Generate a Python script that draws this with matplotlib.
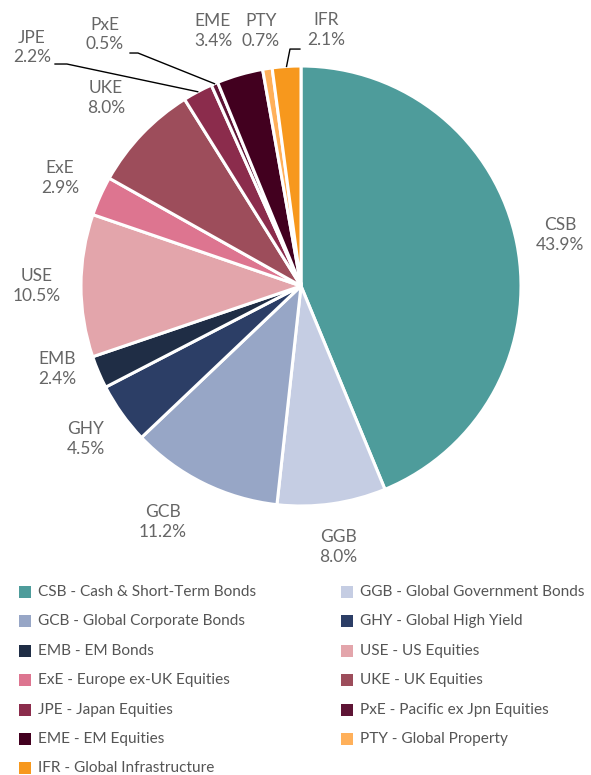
import numpy as np
import matplotlib
matplotlib.use('Agg')
from matplotlib import pyplot as plt
from matplotlib.patches import Rectangle

plt.rcParams['font.family'] = ['Lato', 'DejaVu Sans']

# data
codes = ['CSB', 'GGB', 'GCB', 'GHY', 'EMB', 'USE', 'ExE', 'UKE', 'JPE', 'PxE', 'EME', 'PTY', 'IFR']
names = ['Cash & Short-Term Bonds', 'Global Government Bonds', 'Global Corporate Bonds',
         'Global High Yield', 'EM Bonds', 'US Equities', 'Europe ex-UK Equities',
         'UK Equities', 'Japan Equities', 'Pacific ex Jpn Equities', 'EM Equities',
         'Global Property', 'Global Infrastructure']
values = [43.9, 8.0, 11.2, 4.5, 2.4, 10.5, 2.9, 8.0, 2.2, 0.5, 3.4, 0.7, 2.1]
colors = ['#4E9C9B', '#C5CDE3', '#97A6C6', '#2C3E66', '#1F2D45', '#E3A5AB', '#DD7590',
          '#9D4D5B', '#8B2C4C', '#5E1435', '#42001F', '#FFB05A', '#F7981D']

# label placement overrides (data coords, pie radius = 1)
label_pos = {
    'GCB': (-0.627, -1.073),
    'EMB': (-1.109, -0.377),
    'UKE': (-0.886, 0.855),
    'JPE': (-1.223, 1.084),
    'PxE': (-0.891, 1.143),
    'EME': (-0.400, 1.161),
    'PTY': (-0.182, 1.161),
    'IFR': (0.114, 1.164),
}
# leader lines: (elbow, end) for small slices
leaders = {
    'JPE': ((-1.064, 1.009), (-1.118, 1.009)),
    'PxE': ((-0.741, 1.059), (-0.777, 1.059)),
    'IFR': ((-0.050, 1.077), (-0.005, 1.077)),
}

W, H = 591, 775
fig = plt.figure(figsize=(W / 100, H / 100), dpi=100)
cx, cy, R = 301, 286, 220
ax = fig.add_axes([(cx - R) / W, (H - cy - R) / H, 2 * R / W, 2 * R / H])

wedges, _ = ax.pie(values, colors=colors, startangle=90, counterclock=False,
                   radius=1.0, wedgeprops=dict(edgecolor='white', linewidth=2.2))
ax.set_xlim(-1, 1)
ax.set_ylim(-1, 1)
ax.set_aspect('equal')
ax.axis('off')

for w, code, v in zip(wedges, codes, values):
    ang = np.deg2rad((w.theta1 + w.theta2) / 2)
    if code in label_pos:
        tx, ty = label_pos[code]
    else:
        tx, ty = 1.2 * np.cos(ang), 1.2 * np.sin(ang)
    ax.text(tx, ty, f'{code}\n{v:.1f}%', ha='center', va='center', fontsize=12.5,
            color='#666666', linespacing=1.3, clip_on=False)
    if code in leaders:
        (ex, ey), (fx, fy) = leaders[code]
        ax.plot([np.cos(ang), ex, fx], [np.sin(ang), ey, fy], color='black',
                lw=1.0, clip_on=False)

# legend, two columns, row-major
for i, (code, name, c) in enumerate(zip(codes, names, colors)):
    row, col = divmod(i, 2)
    y = 592 + row * 29.4
    mx = 19 if col == 0 else 341
    fig.patches.append(Rectangle((mx / W, 1 - (y + 6) / H), 12 / W, 12 / H,
                                 transform=fig.transFigure, facecolor=c,
                                 edgecolor='none'))
    fig.text((mx + 19) / W, 1 - y / H, f'{code} - {name}', ha='left', va='center',
             fontsize=11.1, color='#555555')

fig.savefig('out.png', dpi=100)
